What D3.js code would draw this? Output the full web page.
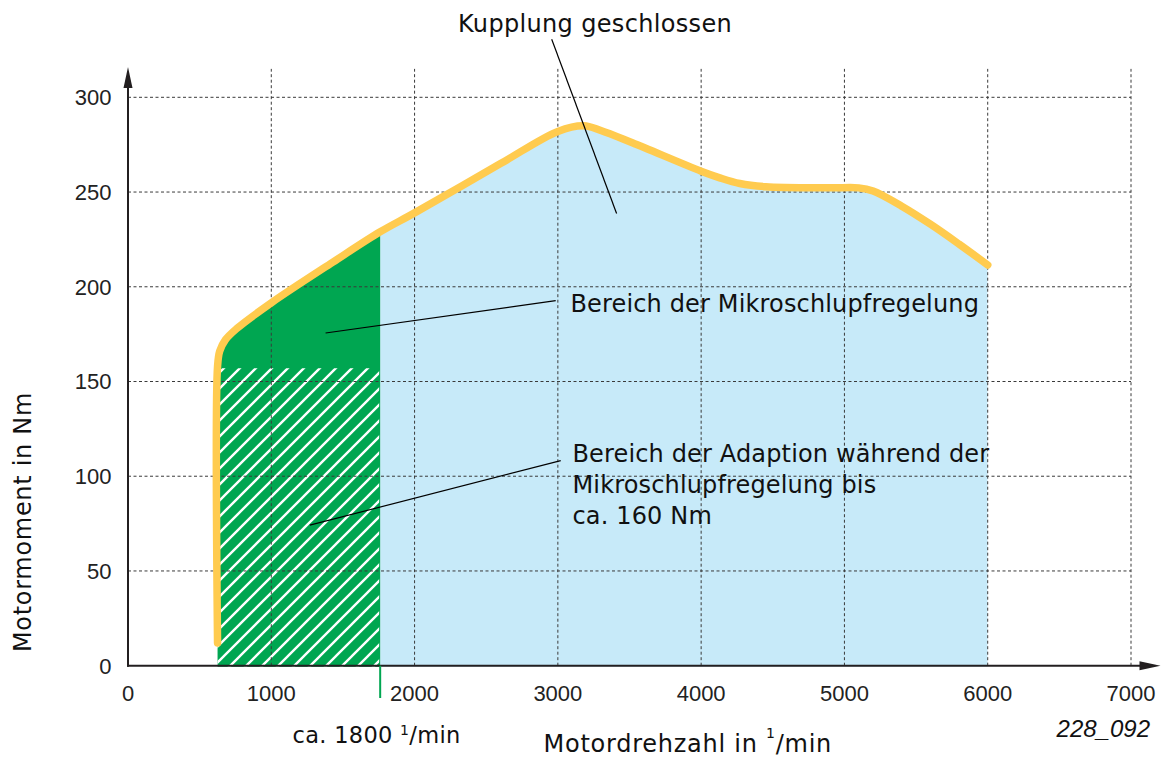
<!DOCTYPE html>
<html>
<head>
<meta charset="utf-8">
<script src="https://cdn.jsdelivr.net/npm/d3@7"></script>
<style>
  body { margin: 0; background: #fff; }
  svg { display: block; }
  .lbl { font-family: "DejaVu Sans", sans-serif; font-size: 24px; fill: #111; }
  .tick { font-family: "Liberation Sans", Arial, sans-serif; font-size: 22px; fill: #222; }
</style>
</head>
<body>
<svg id="chart" width="1162" height="758"></svg>
<script>
// Full-load torque curve of the engine (rpm / Nm)
const curveRpm = [625, 625, 640, 680, 760, 1000, 1430, 1760, 2000, 2600, 3000, 3180, 3300, 3520,
                  4000, 4130, 4270, 4450, 4900, 5100, 5200, 5400, 5600, 5800, 6000];
const curveNm  = [12, 158, 166, 172, 178, 191.5, 213, 229, 239, 265, 282, 285, 282.5, 276,
                  261, 257.5, 254.5, 252.8, 252.2, 252.2, 250.5, 242.5, 233, 222.5, 211.5];

// Region limits
const slipLimitRpm = 1760;     // micro-slip control up to approx. 1800 rpm
const adaptionLimitNm = 157;   // adaption up to approx. 160 Nm
const curveEndRpm = 6000;

// Axis ticks
const xTicks = [0, 1000, 2000, 3000, 4000, 5000, 6000, 7000];
const yTicks = [0, 50, 100, 150, 200, 250, 300];

const svg = d3.select("#chart");
const x = d3.scaleLinear().domain([0, 7000]).range([128, 1131]);
const y = d3.scaleLinear().domain([0, 300]).range([665.7, 97.3]);

const C = {
  blue: "#c7eaf9",
  green: "#00a651",
  yellow: "#ffcb4f",
  axis: "#231f20",
  grid: "#3a3a3a"
};

const pts = curveRpm.map((r, i) => [r, curveNm[i]]);
const line = d3.line()
  .x(d => x(d[0]))
  .y(d => y(d[1]))
  .curve(d3.curveCatmullRom.alpha(0.5));

const outline = line(pts) +
  `L${x(curveEndRpm)},${y(0) + 1}L${x(curveRpm[0])},${y(0) + 1}Z`;

// ---- defs: clip of the area under the curve, hatch pattern
const defs = svg.append("defs");
defs.append("clipPath").attr("id", "underCurve")
  .append("path").attr("d", outline);

const pat = defs.append("pattern")
  .attr("id", "hatch")
  .attr("patternUnits", "userSpaceOnUse")
  .attr("width", 16).attr("height", 16);
pat.append("path")
  .attr("d", "M-4,4L4,-4M0,16L16,0M12,20L20,12")
  .attr("stroke", "#fff")
  .attr("stroke-width", 2.4);

// ---- filled regions
const fills = svg.append("g").attr("clip-path", "url(#underCurve)");
fills.append("rect")
  .attr("x", x(slipLimitRpm)).attr("y", y(300) - 20)
  .attr("width", x(curveEndRpm) - x(slipLimitRpm)).attr("height", y(0) - y(300) + 22)
  .attr("fill", C.blue);
fills.append("rect")
  .attr("x", x(curveRpm[0]) - 2).attr("y", y(300) - 20)
  .attr("width", x(slipLimitRpm) - x(curveRpm[0]) + 2).attr("height", y(0) - y(300) + 22)
  .attr("fill", C.green);
fills.append("rect")
  .attr("x", x(curveRpm[0]) - 2).attr("y", y(adaptionLimitNm))
  .attr("width", x(slipLimitRpm) - x(curveRpm[0]) + 1).attr("height", y(0) - y(adaptionLimitNm) + 2)
  .attr("fill", "url(#hatch)");

// ---- grid
const yGridTop = 315;
const grid = svg.append("g")
  .attr("stroke", C.grid)
  .attr("stroke-width", 1)
  .attr("stroke-dasharray", "3,2.5")
  .attr("fill", "none");
grid.selectAll("line.v").data(xTicks.filter(d => d > 0)).join("line")
  .attr("class", "v")
  .attr("x1", d => x(d)).attr("x2", d => x(d))
  .attr("y1", y(0)).attr("y2", y(yGridTop));
grid.selectAll("line.h").data(yTicks.filter(d => d > 0)).join("line")
  .attr("class", "h")
  .attr("x1", x(0)).attr("x2", x(7000))
  .attr("y1", d => y(d)).attr("y2", d => y(d));

// ---- axes with arrow heads
const axes = svg.append("g");
const yArrowTip = 316, xArrowTip = 7206;
axes.append("line")
  .attr("x1", x(0)).attr("x2", x(0))
  .attr("y1", y(0) + 1).attr("y2", y(yArrowTip) + 18)
  .attr("stroke", C.axis).attr("stroke-width", 2);
axes.append("path")
  .attr("d", `M${x(0)},${y(yArrowTip)}L${x(0) + 4.5},${y(yArrowTip) + 21}L${x(0) - 4.5},${y(yArrowTip) + 21}Z`)
  .attr("fill", C.axis);
axes.append("line")
  .attr("x1", x(0) - 1).attr("x2", x(xArrowTip) - 18)
  .attr("y1", y(0)).attr("y2", y(0))
  .attr("stroke", C.axis).attr("stroke-width", 2);
axes.append("path")
  .attr("d", `M${x(xArrowTip)},${y(0)}L${x(xArrowTip) - 21},${y(0) - 4.5}L${x(xArrowTip) - 21},${y(0) + 4.5}Z`)
  .attr("fill", C.axis);

// tick labels
svg.append("g").selectAll("text").data(yTicks).join("text")
  .attr("class", "tick")
  .attr("x", 111.5).attr("y", d => y(d) + 7.8)
  .attr("text-anchor", "end")
  .text(d => d);
svg.append("g").selectAll("text").data(xTicks).join("text")
  .attr("class", "tick")
  .attr("x", d => x(d)).attr("y", 701)
  .attr("text-anchor", "middle")
  .text(d => d);

// ---- torque curve
svg.append("path")
  .attr("d", line(pts))
  .attr("fill", "none")
  .attr("stroke", C.yellow)
  .attr("stroke-width", 7.5)
  .attr("stroke-linecap", "round")
  .attr("stroke-linejoin", "round");

// marker for the slip-control limit on the rpm axis
svg.append("line")
  .attr("x1", x(slipLimitRpm)).attr("x2", x(slipLimitRpm))
  .attr("y1", y(0)).attr("y2", 698)
  .attr("stroke", C.green).attr("stroke-width", 2);

// ---- annotations (anchors in rpm / Nm)
const leaders = [
  { from: [2957, 330.6], to: [3410, 238.7] },
  { from: [2985, 192.7], to: [1379, 175.6] },
  { from: [3020, 108.2], to: [1269, 74.2] }
];
svg.append("g").selectAll("line").data(leaders).join("line")
  .attr("x1", d => x(d.from[0])).attr("y1", d => y(d.from[1]))
  .attr("x2", d => x(d.to[0])).attr("y2", d => y(d.to[1]))
  .attr("stroke", "#000").attr("stroke-width", 1.2);

svg.append("text").attr("class", "lbl")
  .attr("x", 458).attr("y", 31.5)
  .style("letter-spacing", "0.33px")
  .text("Kupplung geschlossen");

svg.append("text").attr("class", "lbl")
  .attr("x", 570.5).attr("y", 311.7)
  .style("letter-spacing", "0.15px")
  .text("Bereich der Mikroschlupfregelung");

const adaptLines = ["Bereich der Adaption während der", "Mikroschlupfregelung bis", "ca. 160 Nm"];
svg.append("g").selectAll("text").data(adaptLines).join("text")
  .attr("class", "lbl")
  .attr("x", 572.5).attr("y", (d, i) => 461.7 + i * 31.3)
  .style("letter-spacing", "0.15px")
  .text(d => d);

// slip-limit label
const sl = svg.append("text").attr("class", "lbl")
  .attr("x", 292.5).attr("y", 743.3)
  .style("font-size", "22.5px")
  .style("letter-spacing", "0.3px");
sl.append("tspan").text("ca. 1800 ");
sl.append("tspan").attr("dy", -8.5).style("font-size", "14px").text("1");
sl.append("tspan").attr("dy", 8.5).text("/min");

// axis titles
const xt = svg.append("text").attr("class", "lbl")
  .attr("x", 543.5).attr("y", 752)
  .style("letter-spacing", "0.75px");
xt.append("tspan").text("Motordrehzahl in ");
xt.append("tspan").attr("dy", -14).style("font-size", "14px").text("1");
xt.append("tspan").attr("dy", 14).text("/min");

svg.append("text").attr("class", "lbl")
  .attr("transform", "translate(31,522) rotate(-90)")
  .attr("text-anchor", "middle")
  .style("letter-spacing", "0.7px")
  .text("Motormoment in Nm");

// figure number
svg.append("text")
  .attr("x", 1150).attr("y", 737)
  .attr("text-anchor", "end")
  .style("font-family", "'Liberation Sans', Arial, sans-serif")
  .style("font-style", "italic")
  .style("font-size", "24px")
  .style("fill", "#111")
  .text("228_092");
</script>
</body>
</html>
